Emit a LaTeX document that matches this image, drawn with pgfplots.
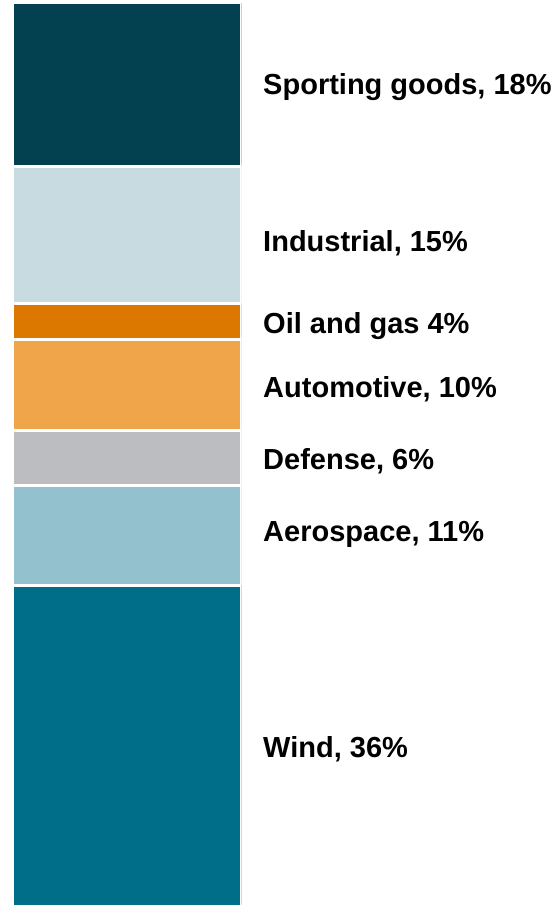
\documentclass[border=0pt]{standalone}
\usepackage{pgfplots}
\pgfplotsset{compat=1.18}
\usepackage{fontspec}
\setmainfont{Liberation Sans}
\definecolor{cSport}{HTML}{034150}
\definecolor{cInd}{HTML}{C8DBE0}
\definecolor{cOil}{HTML}{DC7800}
\definecolor{cAuto}{HTML}{F0A54A}
\definecolor{cDef}{HTML}{BCBDC0}
\definecolor{cAero}{HTML}{93C1CE}
\definecolor{cWind}{HTML}{006E89}
\begin{document}
\begin{tikzpicture}
\useasboundingbox (0,0) rectangle (417.75pt,678.75pt);
\begin{axis}[
  at={(9.375pt,-2.25pt)}, anchor=south west,
  scale only axis, width=171.75pt, height=678.75pt,
  axis lines=none, ticks=none,
  ybar stacked, bar width=1,
  xmin=-0.5, xmax=0.5, ymin=0.5, ymax=100,
  enlargelimits=false, clip=true,
  every axis plot/.append style={draw=white, line width=2.25pt},
]
\addplot[fill=cWind, draw=white] coordinates {(0,36)};
\addplot[fill=cAero, draw=white] coordinates {(0,11)};
\addplot[fill=cDef, draw=white] coordinates {(0,6)};
\addplot[fill=cAuto, draw=white] coordinates {(0,10)};
\addplot[fill=cOil, draw=white] coordinates {(0,4)};
\addplot[fill=cInd, draw=white] coordinates {(0,15)};
\addplot[fill=cSport, draw=white] coordinates {(0,18)};
\coordinate (lWind) at (axis cs:0.5,17.9);
\coordinate (lAero) at (axis cs:0.5,41.6);
\coordinate (lDef) at (axis cs:0.5,49.6);
\coordinate (lAuto) at (axis cs:0.5,57.55);
\coordinate (lOil) at (axis cs:0.5,64.5);
\coordinate (lInd) at (axis cs:0.5,73.55);
\coordinate (lSport) at (axis cs:0.5,90.74);
\end{axis}
\begin{scope}[every node/.style={anchor=west, inner sep=0pt, xshift=16.1pt, font=\fontsize{21.75}{26}\selectfont\bfseries}]
\node at (lWind) {Wind, 36\%};
\node at (lAero) {Aerospace, 11\%};
\node at (lDef) {Defense, 6\%};
\node at (lAuto) {Automotive, 10\%};
\node at (lOil) {Oil and gas 4\%};
\node at (lInd) {Industrial, 15\%};
\node at (lSport) {Sporting goods, 18\%};
\end{scope}
\end{tikzpicture}
\end{document}
